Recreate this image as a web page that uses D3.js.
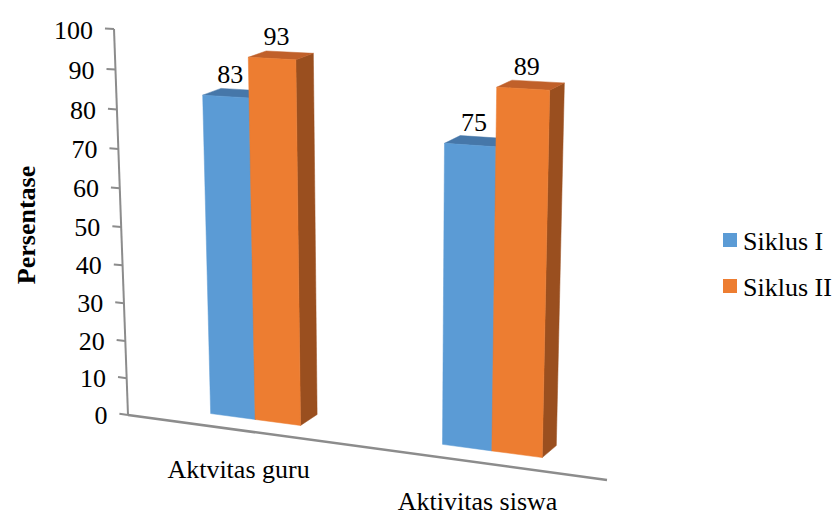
<!DOCTYPE html>
<html>
<head>
<meta charset="utf-8">
<script src="https://cdn.jsdelivr.net/npm/d3@7"></script>
<style>
  body { margin: 0; background: #fff; }
  svg { display: block; }
</style>
</head>
<body>
<svg id="chart" width="836" height="515" font-family="'Liberation Serif', 'Times New Roman', 'DejaVu Serif', serif"></svg>
<script>
// ---- data ----
const categories = ["Aktvitas guru", "Aktivitas siswa"];
const seriesNames = ["Siklus I", "Siklus II"];
const siklusI = [83, 75];
const siklusII = [93, 89];
const valueTicks = [0, 10, 20, 30, 40, 50, 60, 70, 80, 90, 100];
const axisTitle = "Persentase";

// face colours per series: front, top, side
const palette = {
  "Siklus I":  { front: "#5b9bd5", top: "#4677a9", side: "#3d6895" },
  "Siklus II": { front: "#ed7d31", top: "#c0602a", side: "#9a4f1f" }
};

const seriesValues = { "Siklus I": siklusI, "Siklus II": siklusII };

// ---- 3D box -> screen (homogeneous perspective camera) ----
// u: across the floor (0..1), h: up (0..1), z: depth (0 front .. 1 back)
const cam = {
  x: [128, 418.3, -19.7, 51],
  y: [415, 17, -387.45, -13.2],
  w: [1, -0.1, -0.05, 0.033]
};
function project(u, h, z) {
  const w = cam.w[0] + cam.w[1] * u + cam.w[2] * h + cam.w[3] * z;
  return [
    (cam.x[0] + cam.x[1] * u + cam.x[2] * h + cam.x[3] * z) / w,
    (cam.y[0] + cam.y[1] * u + cam.y[2] * h + cam.y[3] * z) / w
  ];
}

// ---- scales ----
const xCat = d3.scaleBand().domain(categories).range([0, 1])
  .paddingInner(0.6).paddingOuter(0.3);
const xSer = d3.scaleBand().domain(seriesNames).range([0, xCat.bandwidth()]);
const yVal = d3.scaleLinear().domain([0, 100]).range([0, 1]);
const barDepth = [0.38, 0.78];

const svg = d3.select("#chart");
const line = d3.line();

// ---- value axis (front-left edge) ----
const gAxis = svg.append("g");
gAxis.append("path")
  .attr("d", line([project(0, 0, 0), project(0, 1, 0)]))
  .attr("stroke", "#8c8c8c").attr("stroke-width", 2).attr("fill", "none");

valueTicks.forEach(t => {
  const h = yVal(t);
  const a = project(-0.02, h, 0), b = project(0, h, 0);
  gAxis.append("path").attr("d", line([a, b]))
    .attr("stroke", "#8c8c8c").attr("stroke-width", 2).attr("fill", "none");
  gAxis.append("text")
    .attr("x", a[0] - 12).attr("y", a[1] + 10)
    .attr("text-anchor", "end").attr("font-size", 26)
    .text(t);
});

// ---- category axis (front floor edge) ----
svg.append("path")
  .attr("d", line([project(0, 0, 0), project(1, 0, 0)]))
  .attr("stroke", "#8c8c8c").attr("stroke-width", 2.5).attr("fill", "none");

categories.forEach(c => {
  const p = project(xCat(c) + xCat.bandwidth() / 2, 0, 0);
  svg.append("text")
    .attr("x", p[0]).attr("y", p[1] + 48)
    .attr("text-anchor", "middle").attr("font-size", 26)
    .text(c);
});

// ---- bars: side, top, front per column, drawn left to right ----
const gBars = svg.append("g");
const gLabels = svg.append("g");
const [z0, z1] = barDepth;

categories.forEach((c, i) => {
  seriesNames.forEach(s => {
    const v = seriesValues[s][i];
    const u0 = xCat(c) + xSer(s);
    const u1 = u0 + xSer.bandwidth();
    const h = yVal(v);
    const col = palette[s];
    const faces = [
      { pts: [[u1, 0, z0], [u1, 0, z1], [u1, h, z1], [u1, h, z0]], fill: col.side },
      { pts: [[u0, h, z0], [u1, h, z0], [u1, h, z1], [u0, h, z1]], fill: col.top },
      { pts: [[u0, 0, z0], [u1, 0, z0], [u1, h, z0], [u0, h, z0]], fill: col.front }
    ];
    faces.forEach(f => {
      gBars.append("path")
        .attr("d", line(f.pts.map(p => project(...p))) + "Z")
        .attr("fill", f.fill)
        .attr("stroke", f.fill).attr("stroke-width", 0.5);
    });
    const lp = project((u0 + u1) / 2, h, z0 + (z1 - z0) * 0.25);
    gLabels.append("text")
      .attr("x", lp[0]).attr("y", lp[1] - 12)
      .attr("text-anchor", "middle").attr("font-size", 26)
      .text(v);
  });
});

// ---- axis title ----
svg.append("text")
  .attr("transform", "translate(35,225) rotate(-90)")
  .attr("text-anchor", "middle").attr("font-size", 26).attr("font-weight", "bold")
  .text(axisTitle);

// ---- legend ----
const legend = svg.append("g").attr("transform", "translate(723,233)");
seriesNames.forEach((s, k) => {
  const g = legend.append("g").attr("transform", `translate(0,${k * 46})`);
  g.append("rect").attr("width", 14).attr("height", 14).attr("fill", palette[s].front);
  g.append("text").attr("x", 20).attr("y", 17).attr("font-size", 26).text(s);
});
</script>
</body>
</html>
